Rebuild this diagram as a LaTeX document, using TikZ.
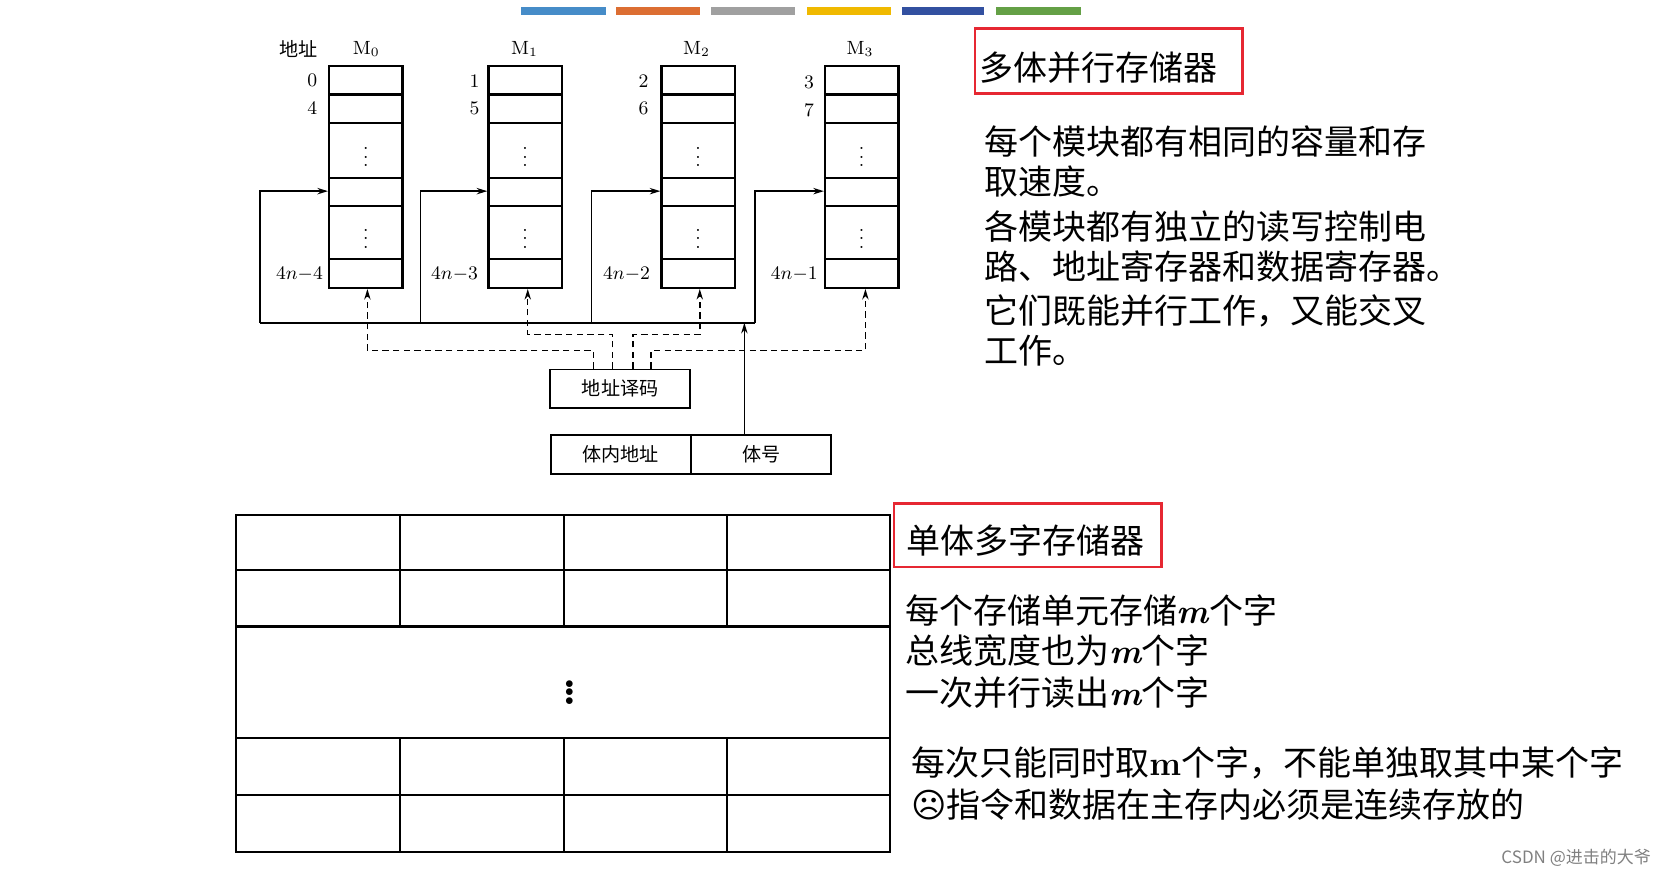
\documentclass[tikz,border=0pt]{standalone}
\usepackage{fontspec}
\newfontfamily\cjk{Noto Sans CJK SC}
\newfontfamily\symfont{DejaVu Sans}
\usepackage{tikz}
\usetikzlibrary{arrows.meta,positioning}

\definecolor{barblue}{RGB}{70,140,200}
\definecolor{barorange}{RGB}{220,110,50}
\definecolor{bargray}{RGB}{160,160,160}
\definecolor{baryellow}{RGB}{240,185,0}
\definecolor{bardblue}{RGB}{50,80,160}
\definecolor{bargreen}{RGB}{100,160,70}
\definecolor{markred}{RGB}{230,40,50}

\newcommand{\mvar}{{\rmfamily\bfseries\itshape m}}

\tikzset{
  module/.style={draw, line width=1.1pt, minimum width=34.5pt, minimum height=104.5pt, inner sep=0pt},
  smallbox/.style={draw, line width=0.9pt, minimum width=66pt, minimum height=18pt, inner sep=0pt, font=\cjk\fontsize{9}{9}\selectfont},
  lbl/.style={font=\fontsize{9}{9}\selectfont, inner sep=0pt},
  feed/.style={line width=0.8pt, -{Stealth[length=5pt,width=3pt]}},
  sel/.style={line width=0.7pt, dashed, dash pattern=on 3pt off 2pt, -{Stealth[length=5pt,width=3pt]}},
  redbox/.style={draw=markred, line width=1.2pt, inner sep=0pt},
  note/.style={font=\cjk\fontsize{16}{16}\selectfont, anchor=west, inner sep=0pt},
  cell/.style={line width=1pt}
}

\begin{document}
\begin{tikzpicture}[x=0.5pt, y=-0.5pt]
    \useasboundingbox (0,0) rectangle (1568,827);

    % Coloured bars at the top
    \fill[barblue]   (491,7) rectangle (571,14);
    \fill[barorange] (580,7) rectangle (659,14);
    \fill[bargray]   (670,7) rectangle (749,14);
    \fill[baryellow] (760,7) rectangle (839,14);
    \fill[bardblue]  (849,7) rectangle (927,14);
    \fill[bargreen]  (938,7) rectangle (1018,14);

    % Memory modules
    \node[module] (m0) at (344.5,166.5) {};
    \node[module] (m1) at (494.5,166.5) {};
    \node[module] (m2) at (657.5,166.5) {};
    \node[module] (m3) at (811.5,166.5) {};
    \foreach \m in {m0,m1,m2,m3} {
        \foreach \y in {89,116,168,194,244}
            \draw[line width=1pt] (\m.west |- 0,\y) -- (\m.east |- 0,\y);
        \foreach \y in {142,219}
            \node[font=\fontsize{9}{9}\selectfont] at (\m |- 0,\y) {$\vdots$};
    }

    % Module names and addresses
    \node[lbl, font=\cjk\fontsize{9}{9}\selectfont] (addr) at (281,46) {地址};
    \node[lbl] (n0) at (345,46) {M$_0$};
    \node[lbl] (n1) at (494,46) {M$_1$};
    \node[lbl] (n2) at (656,46) {M$_2$};
    \node[lbl] (n3) at (810,46) {M$_3$};
    \node[lbl] at (294,76) {0};  \node[lbl] at (294,102) {4};
    \node[lbl] at (447,76) {1};  \node[lbl] at (447,102) {5};
    \node[lbl] at (606,76) {2};  \node[lbl] at (606,102) {6};
    \node[lbl] at (762,78) {3};  \node[lbl] at (762,104) {7};
    \node[lbl] at (282,258) {4$n$$-$4};
    \node[lbl] at (428,258) {4$n$$-$3};
    \node[lbl] at (590,258) {4$n$$-$2};
    \node[lbl] at (748,258) {4$n$$-$1};

    % Decoder and address register
    \node[smallbox] (dec) at (584,366) {地址译码};
    \node[smallbox] (inaddr) at (584.5,428) {体内地址};
    \node[smallbox] (bank) at (717,428) {体号};

    % Address bus to every module
    \coordinate (b0) at (245,304);
    \coordinate (b1) at (396,304);
    \coordinate (b2) at (557,304);
    \coordinate (b3) at (711,304);
    \draw[line width=0.8pt] (b0) -- (b3);
    \draw[feed] (b0) |- (m0.west |- 0,180);
    \draw[feed] (b1) |- (m1.west |- 0,180);
    \draw[feed] (b2) |- (m2.west |- 0,180);
    \draw[feed] (b3) |- (m3.west |- 0,180);
    \draw[feed] (bank.north -| 701,0) -- (701,304);

    % Select lines from the decoder
    \draw[sel] (dec.north -| 559,0) |- (346,330) -- (m0.south -| 346,0);
    \draw[sel] (dec.north -| 577,0) |- (497,315) -- (m1.south -| 497,0);
    \draw[sel] (dec.north -| 596,0) |- (659,315) -- (m2.south -| 659,0);
    \draw[sel] (dec.north -| 613,0) |- (815,330) -- (m3.south -| 815,0);

    % Single memory with multi-word cells
    \draw[cell] (222,485) rectangle (838,802);
    \foreach \y in {537,590,695,749}
        \draw[cell] (222,\y) -- (838,\y);
    \foreach \x in {377,531,685} {
        \draw[cell] (\x,485) -- (\x,590);
        \draw[cell] (\x,695) -- (\x,802);
    }
    \node[font=\bfseries\fontsize{22}{22}\selectfont] (dots) at (537,646) {$\vdots$};

    % Headings and notes
    \node[redbox, minimum width=126pt, minimum height=30.5pt] (title1) at (1044,57.5) {};
    \node[note, anchor=west] at (922,64) {多体并行存储器};
    \node[note] at (927,133) {每个模块都有相同的容量和存};
    \node[note] at (927,171) {取速度。};
    \node[note] at (927,213) {各模块都有独立的读写控制电};
    \node[note] at (927,251) {路、地址寄存器和数据寄存器。};
    \node[note] at (927,293) {它们既能并行工作，又能交叉};
    \node[note] at (927,330) {工作。};

    \node[redbox, minimum width=126pt, minimum height=30pt] (title2) at (968,504) {};
    \node[note] at (853,509) {单体多字存储器};
    \node[note] at (852,575) {每个存储单元存储\mvar 个字};
    \node[note] at (852,613) {总线宽度也为\mvar 个字};
    \node[note] at (852,652) {一次并行读出\mvar 个字};
    \node[note] at (858,718) {每次只能同时取{\rmfamily\bfseries m}个字，不能单独取其中某个字};
    \node[note] at (858,758) {{\symfont ☹}指令和数据在主存内必须是连续存放的};

    \node[font=\cjk\fontsize{8}{8}\selectfont, text=gray, anchor=east, inner sep=0pt] at (1555,808) {CSDN @进击的大爷};
\end{tikzpicture}
\end{document}
